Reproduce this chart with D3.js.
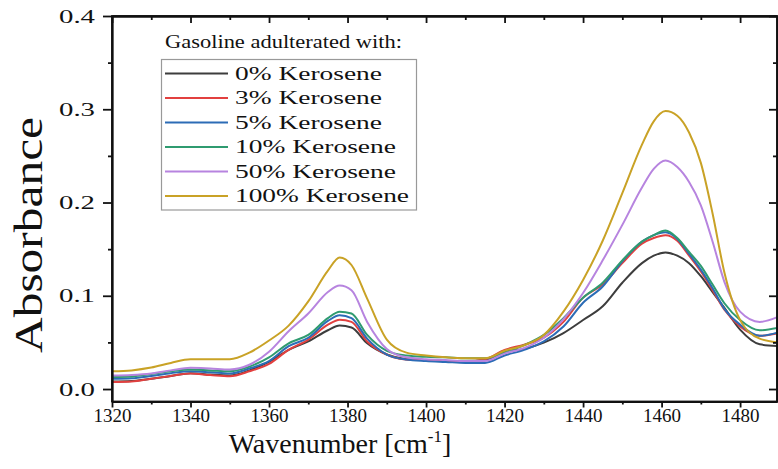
<!DOCTYPE html>
<html><head><meta charset="utf-8">
<script src="https://cdn.jsdelivr.net/npm/d3@7"></script>
<style>body{margin:0;background:#fff}svg{display:block}text{font-family:"Liberation Serif","Times New Roman",serif;fill:#111}</style>
</head><body><svg id="c" width="778" height="469"></svg>
<script>
const wavenumbers = [1320,1325,1330,1335,1340,1345,1350,1355,1360,1365,1370,1375,1378,1381,1385,1390,1395,1400,1405,1410,1415,1420,1425,1430,1435,1440,1445,1450,1455,1458,1461,1464,1467,1470,1473,1476,1480,1485,1490];
const k0   = [0.008,0.0085,0.011,0.014,0.017,0.0155,0.0145,0.020,0.029,0.042,0.051,0.063,0.068,0.066,0.049,0.037,0.032,0.031,0.030,0.030,0.031,0.040,0.043,0.0497,0.060,0.074,0.0887,0.114,0.135,0.143,0.1465,0.143,0.135,0.121,0.104,0.087,0.0637,0.048,0.046];
const k3   = [0.0075,0.008,0.011,0.014,0.0166,0.015,0.0137,0.019,0.027,0.042,0.053,0.069,0.0744,0.072,0.051,0.037,0.0316,0.031,0.030,0.030,0.032,0.042,0.0476,0.055,0.072,0.098,0.112,0.135,0.156,0.162,0.165,0.159,0.143,0.126,0.106,0.085,0.067,0.057,0.060];
const k5   = [0.011,0.0115,0.014,0.017,0.019,0.018,0.0166,0.022,0.030,0.046,0.055,0.073,0.079,0.076,0.054,0.037,0.0316,0.030,0.029,0.028,0.028,0.036,0.042,0.051,0.067,0.0925,0.110,0.137,0.158,0.165,0.168,0.161,0.145,0.128,0.108,0.086,0.069,0.057,0.061];
const k10  = [0.013,0.0135,0.016,0.019,0.021,0.020,0.019,0.024,0.034,0.049,0.058,0.076,0.083,0.081,0.058,0.041,0.036,0.0345,0.034,0.033,0.033,0.039,0.047,0.058,0.076,0.098,0.114,0.138,0.158,0.165,0.170,0.162,0.147,0.132,0.112,0.092,0.074,0.063,0.066];
const k50  = [0.0145,0.015,0.0166,0.020,0.0227,0.022,0.021,0.026,0.040,0.062,0.081,0.104,0.111,0.106,0.072,0.043,0.034,0.032,0.031,0.030,0.030,0.038,0.044,0.055,0.075,0.103,0.138,0.176,0.216,0.236,0.245,0.238,0.222,0.197,0.158,0.115,0.083,0.072,0.078];
const k100 = [0.019,0.020,0.023,0.028,0.032,0.032,0.032,0.039,0.052,0.068,0.094,0.127,0.141,0.133,0.097,0.053,0.039,0.036,0.034,0.033,0.033,0.041,0.047,0.058,0.083,0.117,0.159,0.210,0.262,0.287,0.298,0.293,0.275,0.2425,0.188,0.125,0.074,0.054,0.050];
const seriesNames = ["0% Kerosene","3% Kerosene","5% Kerosene","10% Kerosene","50% Kerosene","100% Kerosene"];
const seriesValues = [k0,k3,k5,k10,k50,k100];
const seriesColors = ["#3d3d3d","#e2403f","#2c6cb6","#2f9b70","#b784df","#c9a226"];
const legendWidths = [147,147,147,161,161,174];
const xTicks = [1320,1340,1360,1380,1400,1420,1440,1460,1480];
const yTicks = [0.0,0.1,0.2,0.3,0.4];

const svg = d3.select("#c");
const L=112, R=777, T=16, B=401.5;
const x = d3.scaleLinear().domain([1320,1489.4]).range([L,R]);
const y = d3.scaleLinear().domain([-0.01337,0.4]).range([B,T]);

svg.append("clipPath").attr("id","clip").append("rect").attr("x",L).attr("y",T).attr("width",R-L).attr("height",B-T);

const line = d3.line().x(d=>x(d[0])).y(d=>y(d[1])).curve(d3.curveMonotoneX);
const g = svg.append("g").attr("clip-path","url(#clip)");
seriesValues.forEach((vals,i)=>{
  g.append("path").datum(wavenumbers.map((w,j)=>[w,vals[j]]))
   .attr("d",line).attr("fill","none").attr("stroke",seriesColors[i]).attr("stroke-width",2);
});

// axes
const minorX = d3.range(1330,1490,20);
const minorY = [0.05,0.15,0.25,0.35];
const bottom = svg.append("g").attr("transform",`translate(0,${B})`)
  .call(d3.axisBottom(x).tickValues(xTicks).tickSize(6).tickSizeOuter(0).tickPadding(4).tickFormat(d3.format("d")));
bottom.selectAll("text").attr("font-size",19).attr("dy","0.71em").attr("y",7);
svg.append("g").attr("transform",`translate(0,${B})`).call(d3.axisBottom(x).tickValues(minorX).tickSize(3).tickSizeOuter(0).tickFormat(""));
const left = svg.append("g").attr("transform",`translate(${L},0)`)
  .call(d3.axisLeft(y).tickValues(yTicks).tickSize(9).tickSizeOuter(0).tickPadding(8).tickFormat(d3.format(".1f")));
left.selectAll("text").attr("font-size",19).attr("textLength",36).attr("lengthAdjust","spacingAndGlyphs");
svg.append("g").attr("transform",`translate(${L},0)`).call(d3.axisLeft(y).tickValues(minorY).tickSize(4).tickSizeOuter(0).tickFormat(""));
svg.append("g").attr("transform",`translate(0,${T})`).call(d3.axisBottom(x).tickValues(xTicks).tickSize(7).tickSizeOuter(0).tickFormat(""));
svg.append("g").attr("transform",`translate(0,${T})`).call(d3.axisBottom(x).tickValues(minorX).tickSize(4).tickSizeOuter(0).tickFormat(""));
svg.append("g").attr("transform",`translate(${R},0)`).call(d3.axisRight(y).tickValues(yTicks).tickSize(-8).tickSizeOuter(0).tickFormat(""));
svg.append("g").attr("transform",`translate(${R},0)`).call(d3.axisRight(y).tickValues(minorY).tickSize(-4).tickSizeOuter(0).tickFormat(""));
svg.selectAll(".domain").attr("stroke","#111").attr("stroke-width",1.8);
svg.selectAll(".tick line").attr("stroke","#111").attr("stroke-width",1.8);
svg.append("rect").attr("x",L).attr("y",T).attr("width",R-L).attr("height",B-T).attr("fill","none").attr("stroke","#111").attr("stroke-width",1.8);

// titles
svg.append("text").attr("transform","translate(42,235) rotate(-90)").attr("text-anchor","middle")
  .attr("font-size",39).attr("textLength",236).attr("lengthAdjust","spacingAndGlyphs").text("Absorbance");
const xt = svg.append("text").attr("x",340).attr("y",453).attr("text-anchor","middle").attr("font-size",28);
xt.append("tspan").text("Wavenumber [cm");
xt.append("tspan").attr("font-size",17).attr("dy",-11).text("-1");
xt.append("tspan").attr("dy",11).text("]");

// legend
svg.append("text").attr("x",165).attr("y",48).attr("font-size",19).attr("textLength",237).attr("lengthAdjust","spacingAndGlyphs").text("Gasoline adulterated with:");
svg.append("rect").attr("x",161.5).attr("y",59.5).attr("width",255).attr("height",150.5).attr("fill","#fff").attr("stroke","#999").attr("stroke-width",1.2);
seriesNames.forEach((n,i)=>{
  const yy = 73.5 + i*24.5;
  svg.append("line").attr("x1",165).attr("x2",228).attr("y1",yy).attr("y2",yy).attr("stroke",seriesColors[i]).attr("stroke-width",2);
  svg.append("text").attr("x",235).attr("y",yy+6).attr("font-size",18).attr("textLength",legendWidths[i]).attr("lengthAdjust","spacingAndGlyphs").text(n);
});
</script></body></html>
